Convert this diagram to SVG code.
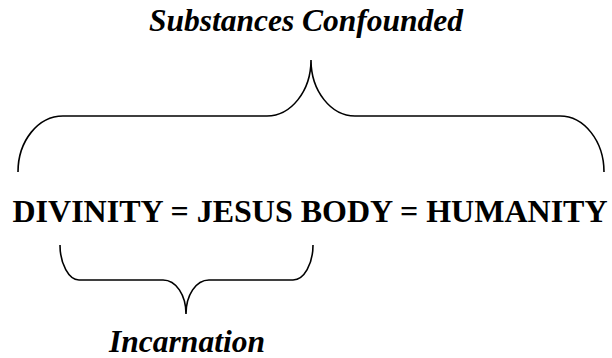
<svg xmlns="http://www.w3.org/2000/svg" width="612" height="358" viewBox="0 0 612 358">
<style>
.brace{fill:none;stroke:#000;stroke-width:1.6}
.lbl{font-family:"Liberation Serif","Times New Roman",serif;font-weight:bold;font-style:italic;font-size:31.5px;fill:#000}
.main{font-family:"Liberation Serif","Times New Roman",serif;font-weight:bold;font-size:32px;fill:#000}
</style>
<rect width="612" height="358" fill="#fff"/>
<g id="substances-label"><text class="lbl" x="306" y="31" text-anchor="middle">Substances Confounded</text></g>
<g id="equation"><text class="main" x="310" y="222" text-anchor="middle">DIVINITY = JESUS BODY = HUMANITY</text></g>
<g id="incarnation-label"><text class="lbl" x="187" y="352" text-anchor="middle">Incarnation</text></g>
<g id="connectors">
<path class="brace" d="M18,172 C18,141 38,116 63,116 L267,116 C291,116 311,91 311,60 C311,91 331,116 355,116 L560,116 C584,116 604,141 604,172"/>
<path class="brace" d="M60,245 C60,264 69,280 79,280 L163,280 C176,280 186,295 186,314 C186,295 196,280 209,280 L293,280 C304,280 313,264 313,245"/>
</g>
</svg>
